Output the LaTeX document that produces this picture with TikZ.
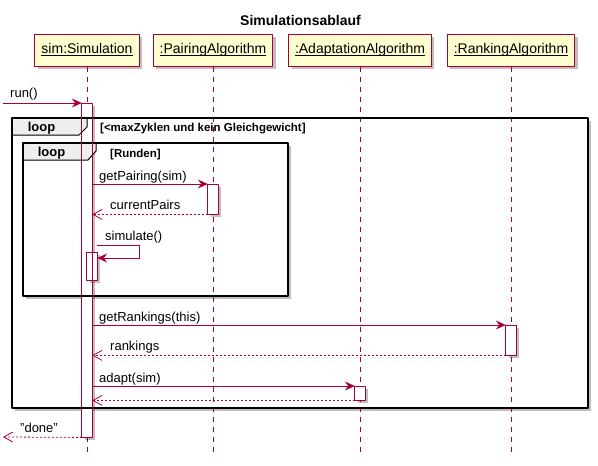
\documentclass[tikz,border=0pt]{standalone}
\usepackage{fontspec}
\setmainfont{Liberation Sans}
\usetikzlibrary{arrows.meta,positioning,shadows}
\definecolor{umlred}{HTML}{A80036}
\definecolor{umlbox}{HTML}{FEFECE}
\definecolor{umltab}{HTML}{EEEEEE}
\newcommand\seqpart[1]{\setbox0\hbox{#1}\rlap{\rule[-1.8pt]{\wd0}{0.8pt}}\box0}
\tikzset{
  umlshadow/.style={drop shadow={shadow xshift=3pt,shadow yshift=-3pt,fill=black,opacity=0.25}},
  part/.style={draw=umlred,fill=umlbox,line width=1pt,minimum height=32pt,inner xsep=6.5pt,text height=10pt,text depth=3pt,font=\fontsize{14}{16}\selectfont,umlshadow},
  lifeline/.style={umlred,line width=0.8pt,dash pattern=on 5pt off 5pt},
  bar/.style={fill=white,inner sep=0pt,minimum width=10pt,anchor=north,umlshadow},
  msg/.style={umlred,line width=0.8pt,-{Stealth[length=10pt,width=9pt,inset=3.5pt]}},
  ret/.style={umlred,line width=0.8pt,dash pattern=on 2pt off 2pt,-{Straight Barb[length=9pt,width=10pt]}},
  lbl/.style={font=\fontsize{13}{15}\selectfont,inner sep=0pt,anchor=base west},
  frm/.style={line width=2pt},
  looptab/.style={fill=umltab,line width=1pt},
  looptext/.style={font=\bfseries\fontsize{13}{15}\selectfont,inner sep=0pt,anchor=base},
  guard/.style={font=\bfseries\fontsize{11.5}{13}\selectfont,inner sep=0pt,anchor=base west},
}
\begin{document}
\begin{tikzpicture}[x=1pt,y=-1pt,line join=round]
  \useasboundingbox (0,0) rectangle (598,466);
  \node[font=\bfseries\fontsize{14}{16}\selectfont,anchor=base] (title) at (300.5,25) {Simulationsablauf};
  % frames, background
  \fill[white,umlshadow] (12,118) rectangle (588,408);
  \fill[white,umlshadow] (23,143) rectangle (288,296);
  % participants
  \node[part] (sim) at (87,50) {\seqpart{sim:Simulation}};
  \node[part] (pair) at (213,50) {\seqpart{:PairingAlgorithm}};
  \node[part] (adapt) at (360,50) {\seqpart{:AdaptationAlgorithm}};
  \node[part] (rank) at (511,50) {\seqpart{:RankingAlgorithm}};
  \foreach \p in {sim,pair,adapt,rank}\draw[lifeline] (\p.south) -- (\p.south |- 0,455);
  % activations
  \node[bar,minimum height=334pt] (actSim) at (87,103) {};
  \node[bar,minimum height=30pt] (actPair) at (213,184) {};
  \node[bar,minimum height=28pt] (actSim2) at (92,252) {};
  \node[bar,minimum height=30pt] (actRank) at (511,325) {};
  \node[bar,minimum height=14pt] (actAdapt) at (360,386) {};
  % loop frames
  \filldraw[looptab] (12,118) -- (87,118) -- (87,127) -- (79,135) -- (12,135) -- cycle;
  \filldraw[looptab] (23,143) -- (96,143) -- (96,151) -- (88,160) -- (23,160) -- cycle;
  \draw[frm] (12,118) rectangle (588,408);
  \draw[frm] (23,143) rectangle (288,296);
  \foreach \b in {actSim,actPair,actSim2,actRank,actAdapt}\draw[umlred,line width=0.8pt] (\b.north west) rectangle (\b.south east);
  \node[looptext] (loopOut) at (41.5,131.5) {loop};
  \node[guard] (guardOut) at (100,131.5) {[<maxZyklen und kein Gleichgewicht]};
  \node[looptext] (loopIn) at (51.5,156.5) {loop};
  \node[guard] (guardIn) at (110,157) {[Runden]};
  % messages
  \coordinate (runIn) at (3,103);
  \draw[msg] (runIn) -- (actSim.north west);
  \node[lbl] (runLbl) at (10,97) {run()};
  \draw[msg] (actSim.east |- actPair.north) -- (actPair.north west);
  \node[lbl] (pairLbl) at (99,180) {getPairing(sim)};
  \draw[ret] (actPair.south west) -- (actSim.east |- actPair.south);
  \node[lbl] (pairRet) at (110,209) {currentPairs};
  \draw[msg] (actSim2.east |- 0,245) -- ++(42,0) |- (actSim2.east |- 0,258);
  \node[lbl] (simLbl) at (105,240) {simulate()};
  \draw[msg] (actSim.east |- actRank.north) -- (actRank.north west);
  \node[lbl] (rankLbl) at (99,321) {getRankings(this)};
  \draw[ret] (actRank.south west) -- (actSim.east |- actRank.south);
  \node[lbl] (rankRet) at (110,350) {rankings};
  \draw[msg] (actSim.east |- actAdapt.north) -- (actAdapt.north west);
  \node[lbl] (adaptLbl) at (99,382) {adapt(sim)};
  \draw[ret] (actAdapt.south west) -- (actSim.east |- actAdapt.south);
  \coordinate (doneOut) at (3,437);
  \draw[ret] (actSim.south west) -- (doneOut);
  \node[lbl] (doneLbl) at (20,432) {"done"};
\end{tikzpicture}
\end{document}
